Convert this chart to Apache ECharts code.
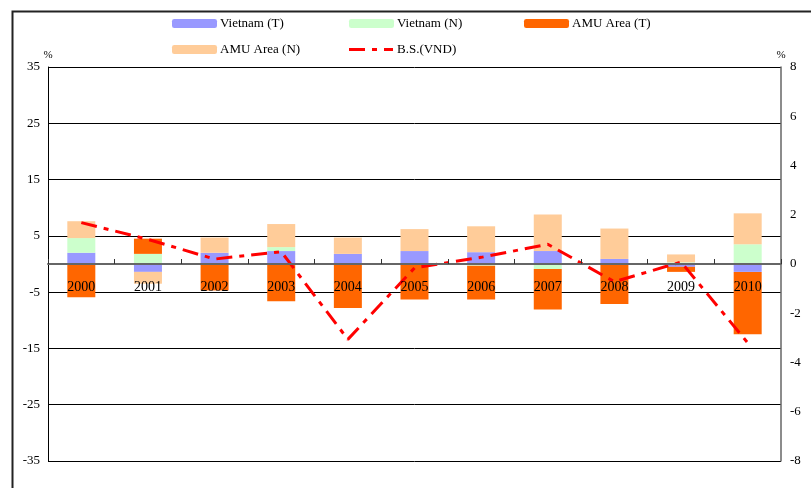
<!DOCTYPE html>
<html>
<head>
<meta charset="utf-8">
<script src="https://cdn.jsdelivr.net/npm/echarts@6/dist/echarts.min.js"></script>
<style>
  html, body { margin: 0; padding: 0; background: #fff; }
  #chart { width: 811px; height: 488px; }
</style>
</head>
<body>
<div id="chart"></div>
<script>
// Years on the category axis
var years = ['2000', '2001', '2002', '2003', '2004', '2005', '2006', '2007', '2008', '2009', '2010'];

// Stacked contributions (%), left axis
var vietnamT = [2.0, -1.4, 2.0, 2.3, 1.8, 2.3, 2.1, 2.3, 0.9, -0.5, -1.4];
var vietnamN = [2.6, 1.8, 0, 0.7, 0, 0, -0.3, -0.9, 0, 0.3, 3.5];
var amuT = [-5.9, 2.7, -4.7, -6.6, -7.8, -6.3, -6.0, -7.2, -7.1, -0.9, -11.1];
var amuN = [3.0, -2.1, 2.7, 4.1, 2.9, 3.9, 4.6, 6.5, 5.4, 1.4, 5.5];

// B.S.(VND) line (%), right axis
var bsVnd = [1.68, 1.0, 0.2, 0.5, -3.06, -0.16, 0.27, 0.8, -0.72, 0.08, -3.2];

// Axis ranges
var leftMin = -35, leftMax = 35, leftStep = 10;
var rightMin = -8, rightMax = 8, rightStep = 2;

var FONT = '"Liberation Serif", "DejaVu Serif", serif';
var W = 811, H = 488;
var GRID = { left: 48, right: 30, top: 67, bottom: 27 };

// Year labels sit just under the zero line rather than at the bottom of the grid
var plotH = H - GRID.top - GRID.bottom;
var zeroY = GRID.top + plotH * (leftMax / (leftMax - leftMin));
var labelOffset = (zeroY + 16) - (H - GRID.bottom);

var chart = echarts.init(document.getElementById('chart'), null, { renderer: 'canvas' });

function legendAt(item, left, top, h) {
  return {
    data: [item],
    left: left,
    top: top,
    padding: 0,
    itemWidth: 45,
    itemHeight: h || 9,
    itemGap: 0,
    textStyle: { fontFamily: FONT, fontSize: 13, color: '#000', padding: [0, 0, 0, -2] },
    selectedMode: false
  };
}

function barSeries(name, data, color) {
  return {
    name: name,
    type: 'bar',
    stack: 'total',
    yAxisIndex: 0,
    barWidth: 28,
    data: data,
    itemStyle: { color: color },
    emphasis: { disabled: true }
  };
}

// dash-dot legend key for the B.S. line
var dashKey = 'path://M0,0H16V3H0Z M23,0H28V3H23Z M35,0H44V3H35Z';

var unitName = {
  fontFamily: FONT, fontSize: 11, color: '#000', align: 'center', verticalAlign: 'top'
};

var option = {
  animation: false,
  backgroundColor: '#fff',
  textStyle: { fontFamily: FONT },
  legend: [
    legendAt('Vietnam (T)', 172, 17),
    legendAt('Vietnam (N)', 349, 17),
    legendAt('AMU Area (T)', 524, 17),
    legendAt('AMU Area (N)', 172, 43),
    {
      data: [{ name: 'B.S.(VND)', icon: dashKey }],
      left: 349, top: 43,
      padding: 0,
      itemWidth: 44, itemHeight: 3,
      textStyle: { fontFamily: FONT, fontSize: 13, color: '#000', padding: [0, 0, 0, -1] },
      selectedMode: false
    }
  ],
  grid: { left: GRID.left, right: GRID.right, top: GRID.top, bottom: GRID.bottom, containLabel: false },
  xAxis: {
    type: 'category',
    data: years,
    z: 10,
    axisLine: { onZero: true, lineStyle: { color: '#666', width: 2 } },
    axisTick: { show: true, inside: true, length: 5, lineStyle: { color: '#333' } },
    axisLabel: { margin: labelOffset, fontFamily: FONT, fontSize: 14, color: '#000' },
    splitLine: { show: false }
  },
  yAxis: [
    {
      type: 'value',
      min: leftMin, max: leftMax, interval: leftStep,
      name: '%',
      nameGap: 12,
      nameTextStyle: unitName,
      axisLine: { show: true, lineStyle: { color: '#000', width: 1 } },
      axisTick: { show: false },
      axisLabel: { margin: 8, fontFamily: FONT, fontSize: 13, color: '#000' },
      splitLine: { show: true, lineStyle: { color: '#000', width: 1 } }
    },
    {
      type: 'value',
      position: 'right',
      min: rightMin, max: rightMax, interval: rightStep,
      name: '%',
      nameGap: 14,
      nameTextStyle: unitName,
      axisLine: { show: true, lineStyle: { color: '#666', width: 1.5 } },
      axisTick: { show: false },
      axisLabel: { margin: 9, fontFamily: FONT, fontSize: 13, color: '#000' },
      splitLine: { show: false }
    }
  ],
  series: [
    barSeries('Vietnam (T)', vietnamT, '#9999FF'),
    barSeries('Vietnam (N)', vietnamN, '#CCFFCC'),
    barSeries('AMU Area (T)', amuT, '#FF6600'),
    barSeries('AMU Area (N)', amuN, '#FFCC99'),
    {
      name: 'B.S.(VND)',
      type: 'line',
      yAxisIndex: 1,
      data: bsVnd,
      showSymbol: false,
      symbol: 'none',
      z: 5,
      lineStyle: { color: '#FF0000', width: 3, type: [16, 7, 5, 7] },
      itemStyle: { color: '#FF0000' },
      emphasis: { disabled: true }
    }
  ],
  graphic: [
    {
      type: 'rect',
      left: 10, top: 9,
      shape: { width: 900, height: 600 },
      style: { fill: null, stroke: '#222', lineWidth: 2 },
      silent: true
    }
  ]
};

chart.setOption(option);
</script>
</body>
</html>
